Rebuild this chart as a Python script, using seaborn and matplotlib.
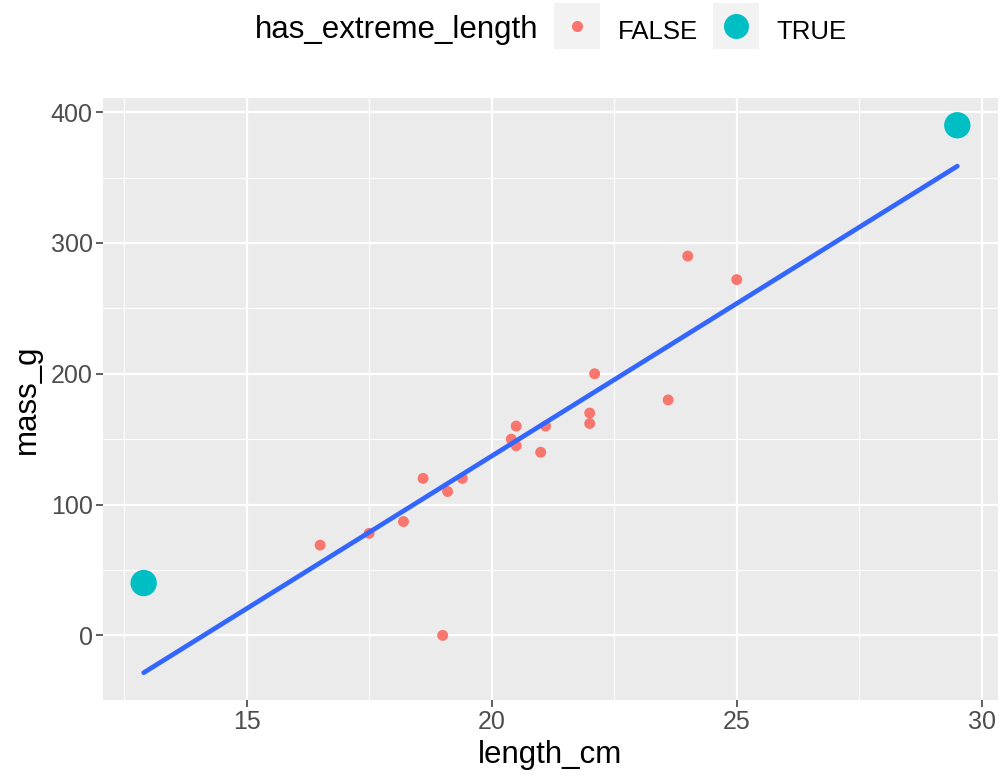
import numpy as np
import pandas as pd
import matplotlib
matplotlib.use("Agg")
import matplotlib.pyplot as plt
from matplotlib.lines import Line2D
from matplotlib.legend_handler import HandlerTuple
from matplotlib.ticker import MultipleLocator
import seaborn as sns

# Fish measurements
length_cm = [12.9, 16.5, 17.5, 18.2, 18.6, 19.1, 19.4, 19.0, 20.4, 20.5,
             20.5, 21.1, 21.0, 22.0, 22.0, 22.1, 23.6, 24.0, 25.0, 29.5]
mass_g = [40, 69, 78, 87, 120, 110, 120, 0, 150, 160,
          145, 160, 140, 170, 162, 200, 180, 290, 272, 390]
has_extreme_length = ["TRUE", "FALSE", "FALSE", "FALSE", "FALSE", "FALSE", "FALSE",
                      "FALSE", "FALSE", "FALSE", "FALSE", "FALSE", "FALSE", "FALSE",
                      "FALSE", "FALSE", "FALSE", "FALSE", "FALSE", "TRUE"]
levels = ["FALSE", "TRUE"]

df = pd.DataFrame({"length_cm": length_cm, "mass_g": mass_g,
                   "has_extreme_length": has_extreme_length})

palette = {"FALSE": "#F8766D", "TRUE": "#00BFC4"}
point_sizes = {"FALSE": 62, "TRUE": 360}

sns.set_theme(style="whitegrid")
plt.rcParams["font.family"] = ["Liberation Sans", "DejaVu Sans"]

fig = plt.figure(figsize=(10, 7.77), dpi=100)
ax = fig.add_axes([0.103, 0.099, 0.895, 0.775])

ax.set_facecolor("#EBEBEB")
for s in ax.spines.values():
    s.set_visible(False)

sns.scatterplot(data=df, x="length_cm", y="mass_g", hue="has_extreme_length",
                size="has_extreme_length", sizes=point_sizes, palette=palette,
                hue_order=levels, size_order=levels, linewidth=0, alpha=1,
                legend=False, ax=ax, zorder=3)
sns.regplot(data=df, x="length_cm", y="mass_g", scatter=False, ci=None,
            color="#3366FF", line_kws={"linewidth": 3.4, "zorder": 4}, ax=ax)

# Limits with 5% expansion around data and fitted line
slope, intercept = np.polyfit(df["length_cm"], df["mass_g"], 1)
xmin, xmax = min(length_cm), max(length_cm)
fit_ends = [slope * xmin + intercept, slope * xmax + intercept]
ylo = min(min(mass_g), *fit_ends)
yhi = max(max(mass_g), *fit_ends)
xr, yr = xmax - xmin, yhi - ylo
ax.set_xlim(xmin - 0.05 * xr, xmax + 0.05 * xr)
ax.set_ylim(ylo - 0.05 * yr, yhi + 0.05 * yr)

ax.xaxis.set_major_locator(MultipleLocator(5))
ax.xaxis.set_minor_locator(MultipleLocator(2.5))
ax.yaxis.set_major_locator(MultipleLocator(100))
ax.yaxis.set_minor_locator(MultipleLocator(50))
ax.grid(which="major", color="white", linewidth=1.6)
ax.grid(which="minor", color="white", linewidth=0.8)
ax.set_axisbelow(True)

ax.tick_params(axis="both", which="major", length=5, width=1.1, color="#333333",
               labelsize=18, labelcolor="#4D4D4D", pad=2.5, bottom=True, left=True)
ax.tick_params(axis="both", which="minor", length=0)

ax.set_xlabel("length_cm", fontsize=22.5, color="black", labelpad=4)
ax.set_ylabel("mass_g", fontsize=22.5, color="black", labelpad=6)

# Legend at the top: grey square key with the coloured point on it
fig.text(0.255, 0.961, "has_extreme_length", fontsize=22.5, color="black",
         ha="left", va="center")
handles = []
for lvl, ms in zip(levels, [8, 18]):
    bg = Line2D([], [], linestyle="none", marker="s", markersize=32.5,
                markerfacecolor="#F2F2F2", markeredgewidth=0)
    dot = Line2D([], [], linestyle="none", marker="o", markersize=ms,
                 markerfacecolor=palette[lvl], markeredgewidth=0)
    handles.append((bg, dot))
fig.legend(handles=handles, labels=levels, ncol=2, loc="center left",
           bbox_to_anchor=(0.555, 0.961), frameon=False, fontsize=18.5,
           handlelength=1.75, handleheight=1.75, handletextpad=0.7,
           columnspacing=0.6, borderpad=0, borderaxespad=0,
           handler_map={tuple: HandlerTuple(ndivide=1, pad=0)},
           labelcolor="black")

fig.savefig("out.png", dpi=100)
